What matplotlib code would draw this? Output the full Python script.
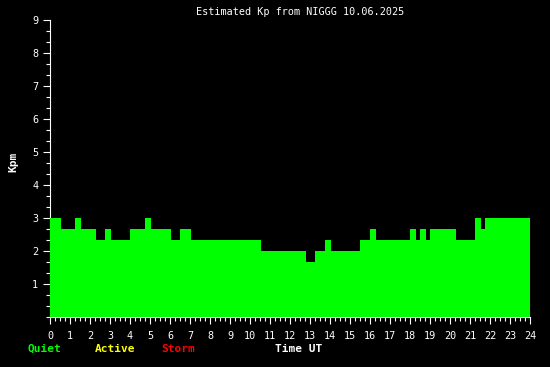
import matplotlib
matplotlib.use("Agg")
import matplotlib.pyplot as plt
import numpy as np

# Kp step edges (hours UT) and values in thirds of a Kp unit
edges = [0, 0.55, 1.25, 1.55, 2.3, 2.75, 3.05, 4.0, 4.75, 5.05, 6.05, 6.5, 7.05,
         10.55, 12.8, 13.25, 13.75, 14.05, 15.5, 16.0, 16.3, 18.0, 18.3, 18.5,
         18.8, 19.0, 20.3, 21.25, 21.55, 21.75, 24.0]
kp_thirds = [9, 8, 9, 8, 7, 8, 7, 8, 9, 8, 7, 8, 7,
             6, 5, 6, 7, 6, 7, 8, 7, 8, 7, 8, 7, 8, 7, 9, 8, 9]
kp = np.array(kp_thirds) / 3.0

x_ticks = list(range(0, 25))
y_ticks = list(range(1, 10))

mono = "DejaVu Sans Mono"
plt.rcParams["font.family"] = mono

fig = plt.figure(figsize=(5.5, 3.67), dpi=100, facecolor="black")
ax = fig.add_axes([50/550, 49.7/367, 480/550, 297/367], facecolor="black")

ax.stairs(kp, edges, fill=True, color="#00ff00", zorder=3)

ax.set_xlim(0, 24)
ax.set_ylim(0, 9)

ax.set_xticks(x_ticks)
ax.set_xticklabels([str(t) for t in x_ticks])
ax.set_xticks(np.arange(0, 24.01, 0.25), minor=True)
ax.set_yticks(y_ticks)
ax.set_yticklabels([str(t) for t in y_ticks])
ax.set_yticks(np.arange(0, 9.01, 1/3), minor=True)

ax.tick_params(which="major", colors="white", length=5, width=0.8, labelsize=7.3, direction="out")
ax.tick_params(axis="x", which="major", pad=5)
ax.tick_params(axis="y", which="major", pad=3.5)
ax.tick_params(which="minor", colors="white", length=3, width=0.8)

for s in ["top", "right"]:
    ax.spines[s].set_visible(False)
for s in ["left", "bottom"]:
    ax.spines[s].set_color("white")
    ax.spines[s].set_linewidth(0.8)
    ax.spines[s].set_zorder(1)

fig.text(300/550, 1 - 12/367, "Estimated Kp from NIGGG 10.06.2025", color="white",
         fontsize=7.3, ha="center", va="center")
fig.text(13/550, 1 - 162/367, "Kpm", color="white", fontsize=8, fontweight="bold",
         rotation=90, ha="center", va="center")

fig.text(28/550, 1 - 349/367, "Quiet", color="#00ff00", fontsize=8, fontweight="bold",
         ha="left", va="center")
fig.text(95/550, 1 - 349/367, "Active", color="#ffff00", fontsize=8, fontweight="bold",
         ha="left", va="center")
fig.text(161/550, 1 - 349/367, "Storm", color="#ff0000", fontsize=8, fontweight="bold",
         ha="left", va="center")
fig.text(275/550, 1 - 349/367, "Time UT", color="white", fontsize=8, fontweight="bold",
         ha="left", va="center")

fig.savefig("out.png", dpi=100, facecolor="black")
